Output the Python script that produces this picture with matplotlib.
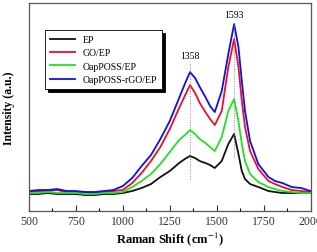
import matplotlib
matplotlib.use("Agg")
import matplotlib.pyplot as plt
from matplotlib.ticker import MultipleLocator

plt.rcParams['font.family'] = ['Liberation Serif', 'DejaVu Serif']
plt.rcParams['mathtext.fontset'] = 'stix'

wavenumber = [500, 550, 600, 650, 700, 750, 800, 850, 900, 950, 1000, 1050, 1100,
              1150, 1200, 1250, 1300, 1330, 1358, 1385, 1410, 1440, 1465, 1490,
              1527, 1562, 1593, 1616, 1634, 1651, 1678, 1722, 1776, 1811, 1850,
              1900, 1950, 2000]

ep = [17, 17, 18, 17, 17, 17, 16, 16, 17, 17, 18, 20, 23,
      27, 34, 40, 48, 52, 55, 53, 50, 48, 46, 43,
      50, 67, 77, 57, 40, 32, 27, 24, 20, 19, 18,
      18, 18, 18]
go_ep = [19, 20, 20, 21, 19, 19, 19, 18, 19, 20, 21, 28, 38,
         50, 64, 82, 103, 115, 126, 118, 108, 99, 92, 86,
         100, 144, 172, 144, 110, 84, 60, 42, 30, 27, 24,
         21, 20, 19]
oap_ep = [18, 18, 19, 18, 18, 18, 17, 17, 18, 18, 19, 24, 30,
          37, 47, 59, 71, 76, 81, 77, 72, 68, 64, 60,
          74, 100, 112, 90, 67, 50, 37, 29, 24, 22, 20,
          19, 18, 18]
oap_rgo_ep = [20, 21, 21, 22, 20, 20, 19, 19, 20, 21, 25, 33, 45,
              56, 72, 90, 113, 127, 139, 133, 124, 114, 105, 99,
              120, 157, 187, 164, 130, 100, 70, 47, 34, 30, 28,
              24, 23, 20]

series = [("EP", ep, "#111111"),
          ("GO/EP", go_ep, "#e8102a"),
          ("OapPOSS/EP", oap_ep, "#22e022"),
          ("OapPOSS-rGO/EP", oap_rgo_ep, "#1010e0")]

peak_positions = [1358, 1593]
peak_labels = ["1358", "1593"]
peak_line_bottom = [32, 54]
peak_line_top = [149, 190]
peak_text_y = [156, 197]

fig = plt.figure(figsize=(3.17, 2.53), dpi=100)
ax = fig.add_axes([0.0915, 0.162, 0.888, 0.822])

for name, vals, col in series:
    ax.plot(wavenumber, vals, color=col, lw=1.3, label=name)

for x, lab, yb, yt, ty in zip(peak_positions, peak_labels, peak_line_bottom, peak_line_top, peak_text_y):
    ax.plot([x, x], [yb, yt], ls=(0, (1, 1.5)), color='#888888', lw=0.7)
    ax.text(x, ty, lab, ha='center', va='center', fontsize=7)

ax.set_xlim(500, 2000)
ax.set_ylim(0, 208)
ax.xaxis.set_major_locator(MultipleLocator(250))
ax.xaxis.set_minor_locator(MultipleLocator(125))
ax.tick_params(axis='x', which='major', direction='in', length=4, width=0.8, labelsize=8.5, pad=3, colors='#333333')
ax.tick_params(axis='x', which='minor', direction='in', length=2, width=0.8)
ax.set_yticks([])
for sp in ax.spines.values():
    sp.set_color('#555555')
    sp.set_linewidth(0.9)

ax.set_xlabel("Raman Shift (cm$^{-1}$)", fontsize=9, fontweight='bold', labelpad=2)
ax.set_ylabel("Intensity (a.u.)", fontsize=8.5, fontweight='bold', labelpad=10)

leg = ax.legend(loc='upper left', bbox_to_anchor=(0.057, 0.87), borderaxespad=0,
                fontsize=7, frameon=True, fancybox=False, edgecolor='black',
                shadow={'color': 'black', 'alpha': 1}, handlelength=2.6,
                handletextpad=0.8, labelspacing=0.45, borderpad=0.5)
leg.get_frame().set_linewidth(0.6)

fig.savefig("out.png", dpi=100)
